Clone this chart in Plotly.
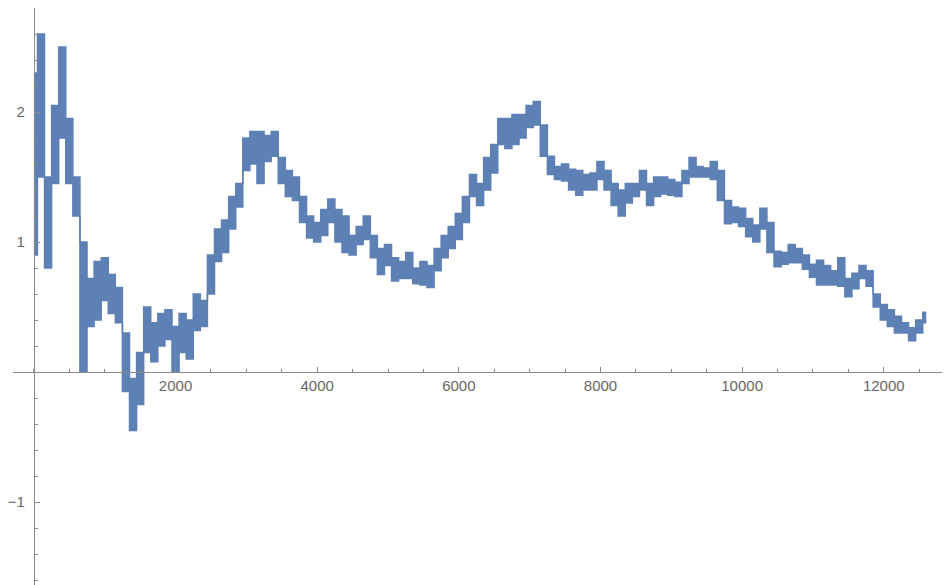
import plotly.graph_objects as go

# sample positions (x) and the upper / lower edges of the noisy band
x_vals = list(range(0, 12700, 100))

band_hi = [
    2.3, 2.6, 1.5, 2.05, 2.5, 1.95, 1.5, 1.0, 0.72, 0.85,
    0.88, 0.75, 0.65, 0.3, -0.05, 0.15, 0.5, 0.38, 0.45, 0.48,
    0.35, 0.45, 0.4, 0.6, 0.55, 0.9, 1.1, 1.17, 1.35, 1.45,
    1.8, 1.85,
    1.85, 1.82, 1.85, 1.65, 1.55, 1.5, 1.35, 1.2, 1.15, 1.25,
    1.33, 1.25, 1.2, 1.05, 1.12, 1.2, 1.05, 0.95, 0.98, 0.88,
    0.85, 0.92, 0.8, 0.85, 0.82, 0.95, 1.05, 1.12, 1.22, 1.35,
    1.52, 1.45, 1.65,
    1.75, 1.95, 1.95, 1.98, 1.98, 2.05, 2.08, 1.9, 1.66, 1.58,
    1.6, 1.56, 1.55, 1.52, 1.53, 1.62, 1.55, 1.45, 1.4, 1.45,
    1.45, 1.55, 1.45, 1.5, 1.5, 1.48, 1.46, 1.55, 1.65, 1.58,
    1.57, 1.62,
    1.55, 1.32, 1.27, 1.26, 1.18, 1.13, 1.26, 1.15, 0.93, 0.92,
    0.98, 0.95, 0.9, 0.83, 0.86, 0.82, 0.78, 0.88, 0.72, 0.76,
    0.82, 0.78, 0.6, 0.52, 0.48, 0.43, 0.38, 0.34, 0.4, 0.46,
]

band_lo = [
    0.9, 1.5, 0.8, 1.45, 1.8, 1.45, 1.2, 0.0, 0.35, 0.4,
    0.55, 0.45, 0.38, -0.15, -0.45, -0.25, 0.15, 0.08, 0.2, 0.25,
    0.0, 0.15, 0.1, 0.32, 0.35, 0.6, 0.85, 0.92, 1.1, 1.27,
    1.55, 1.6,
    1.45, 1.62, 1.66, 1.45, 1.35, 1.32, 1.15, 1.03, 1.0, 1.05,
    1.15, 1.0, 0.92, 0.9, 0.98, 1.02, 0.88, 0.75, 0.82, 0.7,
    0.72, 0.72, 0.68, 0.67, 0.65, 0.78, 0.88, 0.95, 1.02, 1.15,
    1.35, 1.28, 1.4,
    1.53, 1.75, 1.72, 1.75, 1.8, 1.88, 1.9, 1.66, 1.52, 1.48,
    1.47, 1.4, 1.36, 1.4, 1.4, 1.48, 1.4, 1.28, 1.2, 1.3,
    1.35, 1.4, 1.28, 1.35, 1.37, 1.36, 1.35, 1.45, 1.5, 1.5,
    1.5, 1.48,
    1.32, 1.14, 1.15, 1.12, 1.04, 1.0, 1.1, 0.92, 0.81, 0.83,
    0.84, 0.84, 0.79, 0.73, 0.67, 0.67, 0.67, 0.66, 0.58, 0.64,
    0.72, 0.66, 0.5, 0.4, 0.35, 0.3, 0.3, 0.24, 0.3, 0.38,
]

x_tick_vals = [2000, 4000, 6000, 8000, 10000, 12000]
x_tick_text = ["2000", "4000", "6000", "8000", "10000", "12000"]
y_tick_vals = [-1, 1, 2]
y_tick_text = ["\u22121", "1", "2"]

COLOR = "#5E81B5"
AXIS = "#8a8a8a"
LABEL = "#666666"

# the page body has an 8px margin, so the figure is sized to fit the window exactly
W, H = 942, 577
X_RANGE = [-295, 12935]
Y_RANGE = [-1.638, 2.8]

fig = go.Figure()
fig.add_trace(go.Scatter(
    x=x_vals, y=band_lo, mode="lines",
    line=dict(color=COLOR, width=1.5, shape="hvh"),
    hoverinfo="skip", showlegend=False,
))
fig.add_trace(go.Scatter(
    x=x_vals, y=band_hi, mode="lines",
    line=dict(color=COLOR, width=1.5, shape="hvh"),
    fill="tonexty", fillcolor=COLOR,
    showlegend=False,
))

fig.update_layout(
    width=W, height=H,
    margin=dict(l=0, r=0, t=0, b=0),
    paper_bgcolor="white", plot_bgcolor="white",
    xaxis=dict(
        range=X_RANGE,
        anchor="free", position=(0 - Y_RANGE[0]) / (Y_RANGE[1] - Y_RANGE[0]),
        showline=True, linecolor=AXIS, linewidth=1.3,
        showgrid=False, zeroline=False,
        ticks="inside", ticklen=5, tickcolor=AXIS, tickwidth=1,
        tickmode="array", tickvals=x_tick_vals, ticktext=x_tick_text,
        tickfont=dict(family="Liberation Sans, Arial, sans-serif", size=15, color=LABEL),
        minor=dict(tick0=0, dtick=500, ticks="inside", ticklen=3, tickcolor=AXIS, showgrid=False),
    ),
    yaxis=dict(
        range=Y_RANGE,
        anchor="free", position=(0 - X_RANGE[0]) / (X_RANGE[1] - X_RANGE[0]),
        showline=True, linecolor=AXIS, linewidth=1.3,
        showgrid=False, zeroline=False,
        ticks="inside", ticklen=5, tickcolor=AXIS, tickwidth=1,
        tickmode="array", tickvals=y_tick_vals, ticktext=y_tick_text,
        ticklabelstandoff=6,
        tickfont=dict(family="Liberation Sans, Arial, sans-serif", size=15, color=LABEL),
        minor=dict(tick0=0, dtick=0.2, ticks="inside", ticklen=3, tickcolor=AXIS, showgrid=False),
    ),
)

fig.write_html("out.html")
